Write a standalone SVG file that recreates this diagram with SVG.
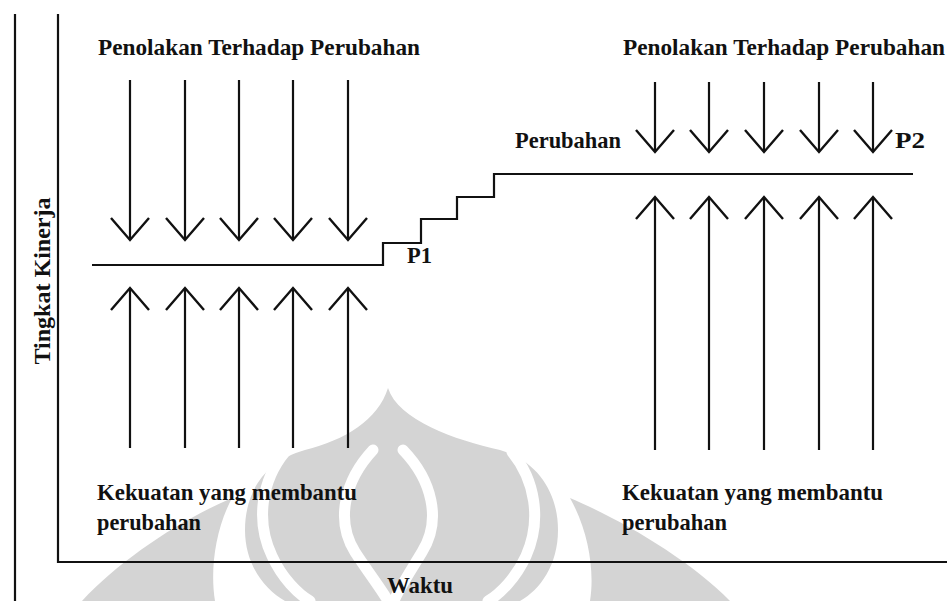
<svg xmlns="http://www.w3.org/2000/svg" width="947" height="601" viewBox="0 0 947 601">
<defs>
<style>
.t{font-family:"Liberation Serif","Times New Roman",serif;font-weight:bold;font-size:23px;fill:#111}
.ln{stroke:#111;stroke-width:2.2;fill:none}
.ar{stroke:#111;stroke-width:2.2;fill:none;marker-end:url(#v)}
.wm{fill:#d4d4d4}
.wg{stroke:#fff;stroke-width:11;fill:none;stroke-linecap:round}
</style>
<marker id="v" markerUnits="userSpaceOnUse" markerWidth="30" markerHeight="44" viewBox="-26 -22 30 44" refX="0" refY="0" orient="auto" overflow="visible">
<path d="M-22,-19 L0,0 L-22,19" fill="none" stroke="#111" stroke-width="2.4"/>
</marker>
</defs>
<rect width="947" height="601" fill="#fff"/>
<g id="watermark">
<path class="wm" d="M388,388 C378,420 345,440 305,450 C262,462 245,495 245,530 C245,565 265,590 285,601 L520,601 C540,590 558,565 558,530 C558,495 540,462 500,450 C455,440 398,420 388,388 Z"/>
<path class="wm" d="M232,498 C180,520 120,560 82,601 L215,601 C210,570 215,530 232,498 Z"/>
<path class="wm" d="M570,498 C622,520 690,560 730,601 L590,601 C595,570 588,530 570,498 Z"/>
<path class="wg" d="M285,452 C262,480 255,520 272,556 C282,578 298,594 310,601"/>
<path class="wg" d="M512,452 C535,480 542,520 526,556 C516,578 500,594 488,601"/>
<path class="wg" d="M373,450 C345,480 335,520 355,552 C368,572 382,590 388,601"/>
<path class="wg" d="M403,450 C432,480 442,520 422,552 C410,572 398,590 394,601"/>
</g>
<g id="axes">
<line class="ln" x1="15" y1="14" x2="15" y2="601"/>
<line class="ln" x1="58" y1="14" x2="58" y2="563"/>
<line class="ln" x1="57" y1="562" x2="947" y2="562"/>
<text class="t" transform="translate(50,281) rotate(-90)" text-anchor="middle" textLength="167" lengthAdjust="spacingAndGlyphs">Tingkat Kinerja</text>
<text class="t" x="387" y="593" textLength="66" lengthAdjust="spacingAndGlyphs">Waktu</text>
</g>
<g id="performance-level">
<path class="ln" d="M92,265 L383,265 L383,243 L421,243 L421,219 L457,219 L457,197 L494,197 L494,174 L913,174"/>
<text class="t" x="407" y="263" textLength="25" lengthAdjust="spacingAndGlyphs">P1</text>
<text class="t" x="895" y="148" textLength="30" lengthAdjust="spacingAndGlyphs">P2</text>
<text class="t" x="515" y="148" textLength="106" lengthAdjust="spacingAndGlyphs">Perubahan</text>
</g>
<g id="left-resistance">
<text class="t" x="98" y="55" textLength="322" lengthAdjust="spacingAndGlyphs">Penolakan Terhadap Perubahan</text>
<line class="ar" x1="130" y1="80" x2="130" y2="240"/>
<line class="ar" x1="185" y1="80" x2="185" y2="240"/>
<line class="ar" x1="239" y1="80" x2="239" y2="240"/>
<line class="ar" x1="293" y1="80" x2="293" y2="240"/>
<line class="ar" x1="348" y1="80" x2="348" y2="240"/>
</g>
<g id="left-driving">
<line class="ar" x1="130" y1="448" x2="130" y2="288"/>
<line class="ar" x1="185" y1="448" x2="185" y2="288"/>
<line class="ar" x1="239" y1="448" x2="239" y2="288"/>
<line class="ar" x1="293" y1="448" x2="293" y2="288"/>
<line class="ar" x1="348" y1="448" x2="348" y2="288"/>
<text class="t" x="97" y="500" textLength="260" lengthAdjust="spacingAndGlyphs">Kekuatan yang membantu</text>
<text class="t" x="97" y="530" textLength="104" lengthAdjust="spacingAndGlyphs">perubahan</text>
</g>
<g id="right-resistance">
<text class="t" x="623" y="55" textLength="322" lengthAdjust="spacingAndGlyphs">Penolakan Terhadap Perubahan</text>
<line class="ar" x1="655" y1="82" x2="655" y2="152"/>
<line class="ar" x1="709" y1="82" x2="709" y2="152"/>
<line class="ar" x1="764" y1="82" x2="764" y2="152"/>
<line class="ar" x1="819" y1="82" x2="819" y2="152"/>
<line class="ar" x1="873" y1="82" x2="873" y2="152"/>
</g>
<g id="right-driving">
<line class="ar" x1="655" y1="450" x2="655" y2="197"/>
<line class="ar" x1="709" y1="450" x2="709" y2="197"/>
<line class="ar" x1="764" y1="450" x2="764" y2="197"/>
<line class="ar" x1="819" y1="450" x2="819" y2="197"/>
<line class="ar" x1="873" y1="450" x2="873" y2="197"/>
<text class="t" x="622" y="500" textLength="261" lengthAdjust="spacingAndGlyphs">Kekuatan yang membantu</text>
<text class="t" x="622" y="530" textLength="105" lengthAdjust="spacingAndGlyphs">perubahan</text>
</g>
</svg>
